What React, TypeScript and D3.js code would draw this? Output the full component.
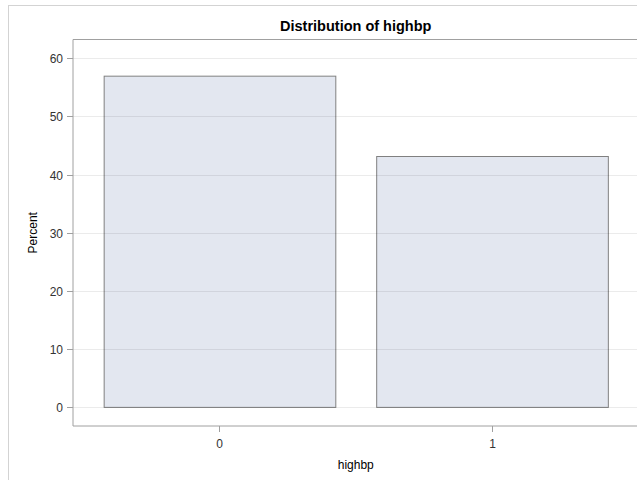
import * as d3 from 'd3';

const categories = ['0', '1'];
const percents = [56.9, 43.1];
const yTicks = [0, 10, 20, 30, 40, 50, 60];
const title = 'Distribution of highbp';
const xLabel = 'highbp';
const yLabel = 'Percent';

const W = 637;
const H = 480;
const margin = { top: 39.5, right: -1.5, bottom: 54, left: 73 };
const font = '"Liberation Sans", Arial, sans-serif';

export default function App() {
    // x: one band per category
    const x = d3.scaleBand<string>()
        .domain(categories)
        .range([margin.left, W - margin.right])
        .paddingInner(0.15)
        .paddingOuter(0.1125);

    // y: percent, padded a little below 0 and above 60
    const y = d3.scaleLinear()
        .domain([-3.2, 63.2])
        .range([H - margin.bottom, margin.top]);

    const [x0, x1] = x.range();
    const [yb, yt] = y.range();
    const cx = (x0 + x1) / 2;

    return (
        <svg width={W} height={H} viewBox={`0 0 ${W} ${H}`}
            style={{ position: 'absolute', left: 0, top: 0, display: 'block', overflow: 'hidden' }}
            fontFamily={font}>
            <rect x={0} y={0} width={W} height={H} fill="white" />
            {/* outer graph border */}
            <rect x={8.5} y={5.5} width={W + 50} height={H + 50} fill="none" stroke="#d3d3d3" />

            <text x={cx} y={30.5} textAnchor="middle" fontSize={14.5} fontWeight="bold" fill="#000">{title}</text>

            {/* bars */}
            {categories.map((c, i) => (
                <rect key={c}
                    x={x(c)! + 0.5}
                    y={y(percents[i])}
                    width={x.bandwidth()}
                    height={y(0) - y(percents[i])}
                    fill="#e3e7f0"
                    stroke="#808080"
                    strokeWidth={1} />
            ))}

            {/* grid lines */}
            {yTicks.map(t => (
                <line key={t} x1={x0} x2={x1 + 20} y1={Math.round(y(t)) + 0.5} y2={Math.round(y(t)) + 0.5}
                    stroke="#000" strokeOpacity={0.08} />
            ))}

            {/* plot frame: its right side lies past the page edge */}
            <path d={`M${x1 + 20},${yt}H${x0}V${yb}H${x1 + 20}`} fill="none" stroke="#a0a0a0" />

            {/* y axis */}
            {yTicks.map(t => (
                <g key={t} transform={`translate(0,${Math.round(y(t)) + 0.5})`}>
                    <line x1={x0 - 6} x2={x0} stroke="#a0a0a0" />
                    <text x={x0 - 10} dy="0.35em" textAnchor="end" fontSize={12} fill="#333">{t}</text>
                </g>
            ))}
            <text transform={`translate(36.5,${(yt + yb) / 2}) rotate(-90)`} textAnchor="middle" fontSize={12} fill="#000">{yLabel}</text>

            {/* x axis */}
            {categories.map(c => {
                const px = Math.round(x(c)! + x.bandwidth() / 2) + 0.5;
                return (
                    <g key={c} transform={`translate(${px},0)`}>
                        <line y1={yb} y2={yb + 6} stroke="#a0a0a0" />
                        <text y={448} textAnchor="middle" fontSize={12} fill="#333">{c}</text>
                    </g>
                );
            })}
            <text x={cx} y={469} textAnchor="middle" fontSize={12} fill="#000">{xLabel}</text>
        </svg>
    );
}
